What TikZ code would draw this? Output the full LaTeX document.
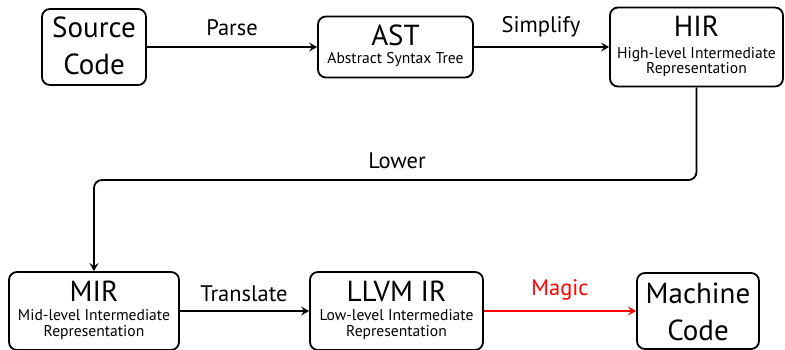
\documentclass[tikz,border=0pt]{standalone}
\usepackage{fontspec}
\setmainfont{PT Sans}
\usetikzlibrary{arrows.meta}
\begin{document}
\begin{tikzpicture}[x=1pt,y=-1pt,
  box/.style={draw=black, line width=1.8pt, rounded corners=8pt, inner sep=0pt},
  big/.style={font=\fontsize{29}{31}\selectfont, inner sep=0pt, anchor=base},
  lab/.style={font=\fontsize{22.5}{25}\selectfont, inner sep=0pt, anchor=base},
  sub/.style={font=\fontsize{15.6}{17}\selectfont, inner sep=0pt, anchor=base},
  arr/.style={line width=1.8pt, -{Stealth[length=8pt,width=9pt,inset=3pt]}}]
\useasboundingbox (0,0) rectangle (785,350);
% boxes
\node[box, minimum width=104pt, minimum height=76pt] (src) at (94,47) {};
\node[box, minimum width=155pt, minimum height=61pt] (ast) at (395.5,47) {};
\node[box, minimum width=173pt, minimum height=79pt] (hir) at (696.5,47) {};
\node[box, minimum width=170pt, minimum height=78pt] (mir) at (94,311) {};
\node[box, minimum width=173pt, minimum height=78pt] (llvm) at (396.5,311) {};
\node[box, minimum width=122pt, minimum height=76pt] (mc) at (698,311) {};
% texts
\node[big] (t1) at (94,38) {Source};
\node[big] (t2) at (94,75) {Code};
\node[big] (t3) at (395.5,46) {AST};
\node[sub] (t4) at (395.5,64) {Abstract Syntax Tree};
\node[big] (t5) at (696.5,37) {HIR};
\node[sub] (t6) at (696.5,59) {High-level Intermediate};
\node[sub] (t7) at (696.5,74) {Representation};
\node[big] (t8) at (94,301) {MIR};
\node[sub] (t9) at (94,320) {Mid-level Intermediate};
\node[sub] (t10) at (94,336) {Representation};
\node[big] (t11) at (396.5,301) {LLVM IR};
\node[sub] (t12) at (396.5,320) {Low-level Intermediate};
\node[sub] (t13) at (396.5,336) {Representation};
\node[big] (t14) at (698,303) {Machine};
\node[big] (t15) at (698,340) {Code};
% edge labels
\node[lab] (l1) at (232,36) {Parse};
\node[lab] (l2) at (541,33) {Simplify};
\node[lab] (l3) at (397,168) {Lower};
\node[lab] (l4) at (244,301) {Translate};
\node[lab, text=red] (l5) at (560,295) {Magic};
% connectors
\coordinate (lw) at (0,180);
\draw[arr] (src.east) -- (src.east -| ast.west);
\draw[arr] (ast.east) -- (ast.east -| hir.west);
\draw[arr, rounded corners=8pt] (hir.south) -- (hir.south |- lw) -| (mir.north);
\draw[arr] (mir.east) -- (llvm.west);
\draw[arr, draw=red] (llvm.east) -- (mc.west);
\end{tikzpicture}
\end{document}
